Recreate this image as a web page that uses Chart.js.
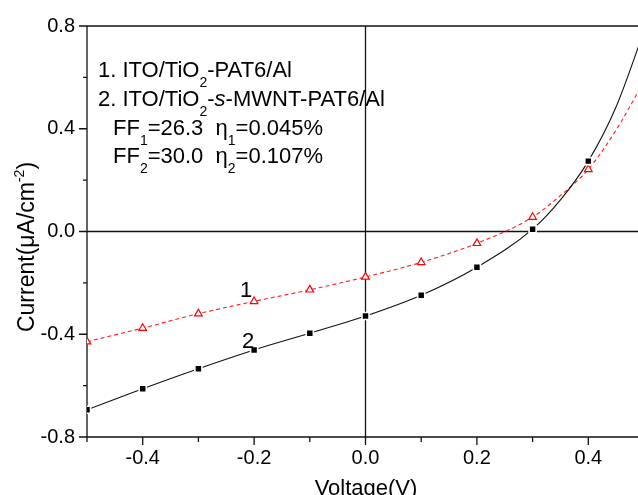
<!DOCTYPE html>
<html>
<head>
<meta charset="utf-8">
<script src="https://cdn.jsdelivr.net/npm/chart.js@4/dist/chart.umd.min.js"></script>
<style>
  html, body { margin: 0; padding: 0; background: #fff; overflow: hidden; }
  #wrap { width: 660px; height: 495px; }
</style>
</head>
<body>
<div id="wrap"><canvas id="iv" width="660" height="495"></canvas></div>
<script>
// measured points (V, uA/cm^-2)
const voltage = [-0.5, -0.4, -0.3, -0.2, -0.1, 0.0, 0.1, 0.2, 0.3, 0.4];
const current1 = [-0.429, -0.376, -0.320, -0.272, -0.227, -0.177, -0.120, -0.046, 0.056, 0.242];
const current2 = [-0.694, -0.612, -0.534, -0.461, -0.396, -0.329, -0.248, -0.139, 0.009, 0.274];

// fitted curves
const fitVoltage = [-0.5, -0.4, -0.3, -0.2, -0.1, 0.0, 0.1, 0.2, 0.3, 0.35, 0.4, 0.45, 0.5];
const fit1 = [-0.429, -0.376, -0.320, -0.272, -0.227, -0.177, -0.120, -0.046, 0.056, 0.140, 0.242, 0.395, 0.585];
const fit2 = [-0.694, -0.612, -0.534, -0.461, -0.396, -0.329, -0.248, -0.139, 0.009, 0.123, 0.274, 0.486, 0.780];

const xTicks = [-0.4, -0.2, 0.0, 0.2, 0.4];
const xMinor = [-0.5, -0.3, -0.1, 0.1, 0.3, 0.5];
const yTicks = [-0.8, -0.4, 0.0, 0.4, 0.8];
const yMinor = [-0.6, -0.2, 0.2, 0.6];

const FONT = '"Liberation Sans", Arial, sans-serif';

const pts = (xs, ys) => xs.map((x, i) => ({ x: x, y: ys[i] }));

// draw text made of pieces with sub/superscripts
function drawRich(ctx, x, y, parts, size) {
    ctx.save();
    ctx.textBaseline = 'alphabetic';
    ctx.textAlign = 'left';
    let cx = x;
    parts.forEach(p => {
        let fs = size, dy = 0;
        if (p.sub) { fs = Math.round(size * 0.62); dy = size * 0.45; }
        if (p.sup) { fs = Math.round(size * 0.62); dy = -size * 0.42; }
        ctx.font = (p.it ? 'italic ' : '') + fs + 'px ' + FONT;
        ctx.fillText(p.t, cx, y + dy);
        cx += ctx.measureText(p.t).width;
    });
    ctx.restore();
    return cx - x;
}

function richWidth(ctx, parts, size) {
    ctx.save();
    let w = 0;
    parts.forEach(p => {
        let fs = (p.sub || p.sup) ? Math.round(size * 0.62) : size;
        ctx.font = (p.it ? 'italic ' : '') + fs + 'px ' + FONT;
        w += ctx.measureText(p.t).width;
    });
    ctx.restore();
    return w;
}

const axesPlugin = {
    id: 'axesPlugin',
    beforeDatasetsDraw(chart) {
        const { ctx, chartArea: a, scales: { x, y } } = chart;
        ctx.save();
        ctx.strokeStyle = '#111';
        ctx.lineWidth = 1.3;
        ctx.beginPath();
        // frame: left, bottom, top
        ctx.moveTo(a.left, a.top); ctx.lineTo(a.left, a.bottom); ctx.lineTo(a.right, a.bottom);
        ctx.moveTo(a.left, a.top); ctx.lineTo(a.right, a.top);
        // zero cross lines
        const x0 = x.getPixelForValue(0), y0 = y.getPixelForValue(0);
        ctx.moveTo(x0, a.top); ctx.lineTo(x0, a.bottom);
        ctx.moveTo(a.left, y0); ctx.lineTo(a.right, y0);
        // ticks
        yTicks.forEach(v => { const p = y.getPixelForValue(v); ctx.moveTo(a.left - 8, p); ctx.lineTo(a.left, p); });
        yMinor.forEach(v => { const p = y.getPixelForValue(v); ctx.moveTo(a.left - 4, p); ctx.lineTo(a.left, p); });
        xTicks.forEach(v => { const p = x.getPixelForValue(v); ctx.moveTo(p, a.bottom); ctx.lineTo(p, a.bottom + 8); });
        xMinor.forEach(v => { const p = x.getPixelForValue(v); ctx.moveTo(p, a.bottom); ctx.lineTo(p, a.bottom + 5); });
        ctx.stroke();
        ctx.restore();
    },
    afterDraw(chart) {
        const { ctx } = chart;
        ctx.save();
        ctx.fillStyle = '#000';
        const s = 22;
        drawRich(ctx, 98, 77, [{ t: '1. ITO/TiO' }, { t: '2', sub: true }, { t: '-PAT6/Al' }], s);
        drawRich(ctx, 98, 106, [{ t: '2. ITO/TiO' }, { t: '2', sub: true }, { t: '-' }, { t: 's', it: true }, { t: '-MWNT-PAT6/Al' }], s);
        drawRich(ctx, 113, 135, [{ t: 'FF' }, { t: '1', sub: true }, { t: '=26.3  \u03b7' }, { t: '1', sub: true }, { t: '=0.045%' }], s);
        drawRich(ctx, 113, 163, [{ t: 'FF' }, { t: '2', sub: true }, { t: '=30.0  \u03b7' }, { t: '2', sub: true }, { t: '=0.107%' }], s);

        // curve labels
        ctx.font = '22px ' + FONT;
        ctx.textAlign = 'center';
        ctx.fillText('1', 246, 297);
        ctx.fillText('2', 248, 348);

        // axis titles
        ctx.fillText('Voltage(V)', 366, 495);
        const yt = [{ t: 'Current(\u03bcA/cm' }, { t: '-2', sup: true }, { t: ')' }];
        const w = richWidth(ctx, yt, 23);
        ctx.translate(34, 247);
        ctx.rotate(-Math.PI / 2);
        drawRich(ctx, -w / 2, 0, yt, 23);
        ctx.restore();
    }
};

new Chart(document.getElementById('iv'), {
    type: 'scatter',
    data: {
        datasets: [
            {
                label: 'points 2',
                data: pts(voltage, current2),
                pointStyle: 'rect',
                pointRadius: 5,
                pointBackgroundColor: '#000',
                pointBorderColor: '#fff',
                pointBorderWidth: 1.6,
                showLine: false,
                order: 1
            },
            {
                label: 'points 1',
                data: pts(voltage, current1),
                pointStyle: 'triangle',
                pointRadius: 4.4,
                pointBackgroundColor: '#fff',
                pointBorderColor: '#ff0000',
                pointBorderWidth: 1.2,
                showLine: false,
                order: 2
            },
            {
                label: 'fit 2',
                data: pts(fitVoltage, fit2),
                showLine: true,
                borderColor: '#111',
                borderWidth: 1.1,
                pointRadius: 0,
                cubicInterpolationMode: 'monotone',
                order: 3
            },
            {
                label: 'fit 1',
                data: pts(fitVoltage, fit1),
                showLine: true,
                borderColor: '#ff2020',
                borderWidth: 1.1,
                borderDash: [4, 3],
                pointRadius: 0,
                cubicInterpolationMode: 'monotone',
                order: 4
            }
        ]
    },
    options: {
        responsive: false,
        animation: false,
        layout: { padding: { top: 26, right: 16, left: 0, bottom: 0 } },
        plugins: { legend: { display: false }, tooltip: { enabled: false } },
        scales: {
            x: {
                type: 'linear', min: -0.5, max: 0.5,
                afterBuildTicks: s => { s.ticks = xTicks.map(v => ({ value: v })); },
                afterFit: s => { s.height = 58; },
                grid: { display: false, drawTicks: false },
                border: { display: false },
                ticks: {
                    color: '#000', padding: 9,
                    font: { family: FONT, size: 20 },
                    callback: v => v.toFixed(1)
                }
            },
            y: {
                type: 'linear', min: -0.8, max: 0.8,
                afterBuildTicks: s => { s.ticks = yTicks.map(v => ({ value: v })); },
                afterFit: s => { s.width = 87; },
                grid: { display: false, drawTicks: false },
                border: { display: false },
                ticks: {
                    color: '#000', padding: 12,
                    font: { family: FONT, size: 20 },
                    callback: v => v.toFixed(1)
                }
            }
        }
    },
    plugins: [axesPlugin]
});
</script>
</body>
</html>
